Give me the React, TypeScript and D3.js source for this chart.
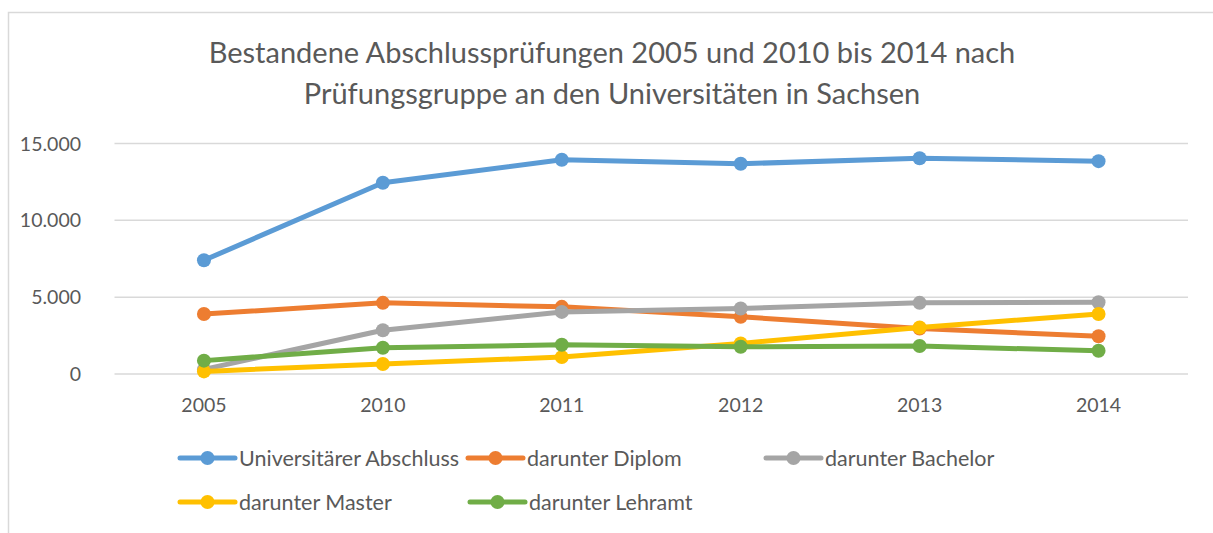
import * as d3 from 'd3';

const years = ['2005', '2010', '2011', '2012', '2013', '2014'];
const universitaer = [7400, 12450, 13940, 13680, 14040, 13850];
const diplom = [3900, 4630, 4370, 3720, 2960, 2460];
const bachelor = [300, 2850, 4040, 4260, 4630, 4670];
const master = [170, 650, 1100, 1990, 3030, 3900];
const lehramt = [870, 1710, 1900, 1770, 1820, 1510];
const yTicks = [0, 5000, 10000, 15000];

const seriesNames = [
  'Universitärer Abschluss',
  'darunter Diplom',
  'darunter Bachelor',
  'darunter Master',
  'darunter Lehramt',
];
const seriesValues = [universitaer, diplom, bachelor, master, lehramt];
const colors = ['#5B9BD5', '#ED7D31', '#A5A5A5', '#FFC000', '#70AD47'];

const W = 1213;
const H = 533;
const PLOT = { left: 114.5, right: 1188, top: 143.5, bottom: 374 };
const FONT = 'Lato, "Open Sans", sans-serif';
const TEXT = '#595959';

// legend slots: [x of line start, row y]
const legendPos = [
  [180, 458],
  [468, 458],
  [766, 458],
  [180, 502],
  [470, 502],
];

export default function App() {
  const x = d3.scaleBand<string>().domain(years).range([PLOT.left, PLOT.right]);
  const y = d3.scaleLinear().domain([0, 15000]).range([PLOT.bottom, PLOT.top]);
  const fmt = (v: number) => (v === 0 ? '0' : d3.format(',')(v).replace(/,/g, '.'));
  const cx = (yr: string) => (x(yr) ?? 0) + x.bandwidth() / 2;
  const line = d3
    .line<number>()
    .x((_, i) => cx(years[i]))
    .y((d) => y(d));

  return (
    <svg
      width={W}
      height={H}
      style={{ position: 'absolute', left: 0, top: 0, background: '#fff' }}
      fontFamily={FONT}
    >
      <rect x={8.5} y={12.5} width={W + 20} height={H + 20} fill="#fff" stroke="#D9D9D9" strokeWidth={1.5} />

      <text x={612} y={63} textAnchor="middle" fontSize={29} fill={TEXT}>
        Bestandene Abschlussprüfungen 2005 und 2010 bis 2014 nach
      </text>
      <text x={612} y={104} textAnchor="middle" fontSize={29} fill={TEXT}>
        Prüfungsgruppe an den Universitäten in Sachsen
      </text>

      {yTicks.map((t) => (
        <g key={t}>
          <line x1={PLOT.left} x2={PLOT.right} y1={y(t)} y2={y(t)} stroke="#D9D9D9" strokeWidth={1.5} />
          <text x={81} y={y(t) + 7} textAnchor="end" fontSize={19.5} fill={TEXT}>
            {fmt(t)}
          </text>
        </g>
      ))}

      {years.map((yr) => (
        <text key={yr} x={cx(yr)} y={412} textAnchor="middle" fontSize={19.5} fill={TEXT}>
          {yr}
        </text>
      ))}

      {seriesValues.map((vals, s) => (
        <g key={seriesNames[s]}>
          <path d={line(vals) ?? ''} fill="none" stroke={colors[s]} strokeWidth={5} strokeLinejoin="round" />
          {vals.map((v, i) => (
            <circle key={i} cx={cx(years[i])} cy={y(v)} r={7} fill={colors[s]} />
          ))}
        </g>
      ))}

      {seriesNames.map((name, s) => {
        const [lx, ly] = legendPos[s];
        return (
          <g key={name}>
            <line x1={lx} x2={lx + 55} y1={ly} y2={ly} stroke={colors[s]} strokeWidth={5} strokeLinecap="round" />
            <circle cx={lx + 27.5} cy={ly} r={7} fill={colors[s]} />
            <text x={lx + 59} y={ly + 8} fontSize={21.5} fill={TEXT}>
              {name}
            </text>
          </g>
        );
      })}
    </svg>
  );
}
